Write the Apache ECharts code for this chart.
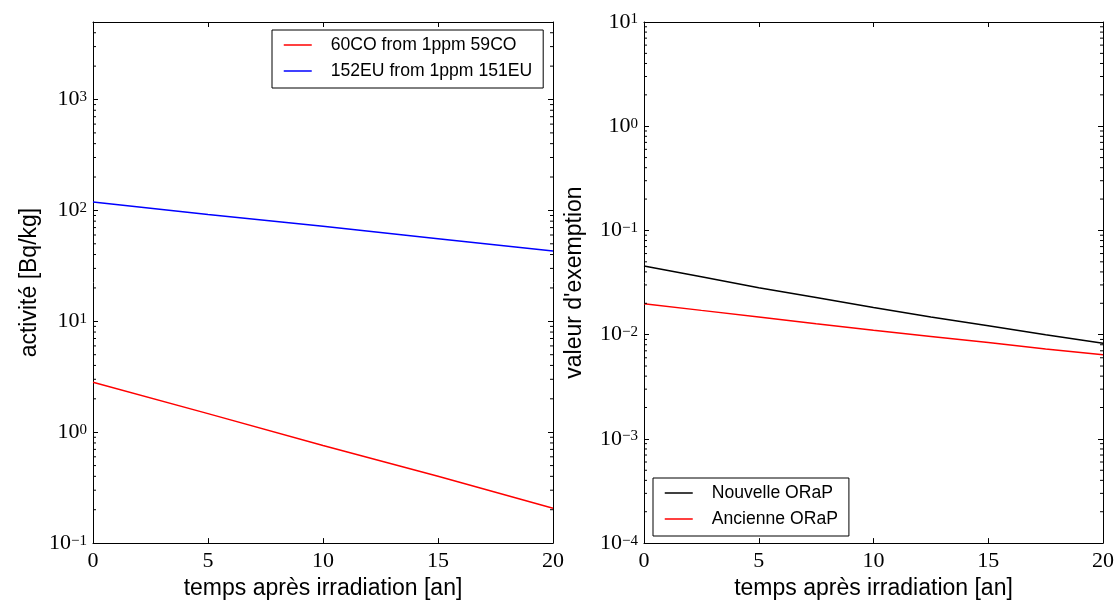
<!DOCTYPE html>
<html><head><meta charset="utf-8">
<script src="https://cdn.jsdelivr.net/npm/echarts@6/dist/echarts.min.js"></script>
<style>html,body{margin:0;padding:0;background:#fff}#c{width:1120px;height:605px}</style>
</head><body><div id="c"></div>
<script>
// ---- data ----
const yearsL = [0, 5, 10, 15, 20];
const co60 = [2.82, 1.47, 0.76, 0.40, 0.206];
const eu152 = [119, 92, 72, 55.5, 43];
const yearsR = [0, 2.5, 5, 7.5, 10, 12.5, 15, 17.5, 20];
const nouvelle = [0.0455, 0.0359, 0.0282, 0.0227, 0.0182, 0.0148, 0.0122, 0.0100, 0.00826];
const ancienne = [0.0198, 0.0171, 0.0148, 0.0127, 0.0110, 0.0096, 0.0084, 0.0073, 0.0064];
const xTicks = [0, 5, 10, 15, 20];
const yRangeL = [0.1, 5000];
const yRangeR = [0.0001, 10];
const namesL = ['60CO from 1ppm 59CO', '152EU from 1ppm 151EU'];
const namesR = ['Nouvelle ORaP', 'Ancienne ORaP'];
const xName = 'temps après irradiation [an]';
const yNameL = 'activité [Bq/kg]';
const yNameR = "valeur d'exemption";

const serif = 'Liberation Serif';
const sans = 'Liberation Sans';
const toPairs = (xs, ys) => xs.map((x, i) => [x, ys[i]]);

function logLabel(v) {
  const e = Math.log10(v), r = Math.round(e);
  if (Math.abs(e - r) > 1e-6) return '';
  return '{b|10}{s|' + (r < 0 ? '\u2212' + (-r) : r) + '}';
}
const rich = {
  b: {fontFamily: serif, fontSize: 22, color: '#000', lineHeight: 22},
  s: {fontFamily: serif, fontSize: 15, color: '#000', verticalAlign: 'top', lineHeight: 22, padding: [1, 0, 0, 0]}
};
function minorVals(lo, hi) {
  const out = [];
  for (let e = Math.floor(Math.log10(lo)); e <= Math.ceil(Math.log10(hi)); e++)
    for (let m = 2; m <= 9; m++) { const v = m * Math.pow(10, e); if (v > lo * 1.0001 && v < hi * 0.9999) out.push(v); }
  return out;
}
const axLine = {show: true, onZero: false, lineStyle: {color: '#000', width: 1}};
function xAx(g, top) {
  return {
    type: 'value', gridIndex: g, min: xTicks[0], max: xTicks[xTicks.length - 1], interval: 5,
    position: top ? 'top' : 'bottom',
    axisLine: axLine, axisTick: {show: true, inside: true, length: 5, lineStyle: {color: '#000'}},
    axisLabel: {show: !top, margin: 7, fontFamily: serif, fontSize: 22, color: '#000'},
    splitLine: {show: false},
    name: top ? '' : xName, nameLocation: 'middle', nameGap: 33,
    nameTextStyle: {fontFamily: sans, fontSize: 23, color: '#000'}
  };
}
function yAx(g, right, range, name, gap) {
  return {
    type: 'log', logBase: 10, gridIndex: g, min: range[0], max: range[1], splitNumber: 5,
    position: right ? 'right' : 'left',
    axisLine: axLine, axisTick: {show: true, inside: true, length: 5, lineStyle: {color: '#000'}},
    axisLabel: {show: !right, margin: 6, formatter: logLabel, rich: rich},
    splitLine: {show: false},
    name: right ? '' : name, nameLocation: 'middle', nameGap: gap,
    nameTextStyle: {fontFamily: sans, fontSize: 23, color: '#000'}
  };
}
function minorSeries(xi, yi, range) {
  return {
    type: 'custom', xAxisIndex: xi, yAxisIndex: yi, silent: true, z: 5,
    data: minorVals(range[0], range[1]).map(v => [0, v]),
    renderItem: function (params, api) {
      const v = api.value(1);
      const p0 = api.coord([xTicks[0], v]);
      const p1 = api.coord([xTicks[xTicks.length - 1], v]);
      return {type: 'group', children: [
        {type: 'line', shape: {x1: p0[0], y1: p0[1], x2: p0[0] + 3, y2: p0[1]}, style: {stroke: '#000', lineWidth: 1}},
        {type: 'line', shape: {x1: p1[0] - 3, y1: p1[1], x2: p1[0], y2: p1[1]}, style: {stroke: '#000', lineWidth: 1}}
      ]};
    }
  };
}
function lineSeries(name, xi, yi, xs, ys, color) {
  return {
    name: name, type: 'line', xAxisIndex: xi, yAxisIndex: yi, data: toPairs(xs, ys),
    symbol: 'none', showSymbol: false, lineStyle: {color: color, width: 1.5}, itemStyle: {color: color},
    z: 3, animation: false
  };
}
function legend(names, left, top) {
  return {
    data: names, orient: 'vertical', left: left, top: top,
    padding: [6, 11, 8, 11], itemWidth: 28, itemHeight: 14, itemGap: 8,
    borderColor: '#000', borderWidth: 1, borderRadius: 0, backgroundColor: '#fff',
    itemStyle: {opacity: 0},
    lineStyle: {width: 1.5},
    textStyle: {fontFamily: sans, fontSize: 17.6, color: '#000', padding: [0, 0, 0, 14]},
    selectedMode: false
  };
}

const chart = echarts.init(document.getElementById('c'), null, {renderer: 'canvas'});
chart.setOption({
  animation: false,
  backgroundColor: '#fff',
  grid: [
    {left: 93, right: 567, top: 22, bottom: 61},
    {left: 644, right: 17, top: 22, bottom: 61}
  ],
  xAxis: [xAx(0, false), xAx(0, true), xAx(1, false), xAx(1, true)],
  yAxis: [yAx(0, false, yRangeL, yNameL, 52), yAx(0, true, yRangeL, '', 0),
          yAx(1, false, yRangeR, yNameR, 58), yAx(1, true, yRangeR, '', 0)],
  legend: [legend(namesL, 272, 30), legend(namesR, 653, 478)],
  series: [
    lineSeries(namesL[0], 0, 0, yearsL, co60, '#ff0000'),
    lineSeries(namesL[1], 0, 0, yearsL, eu152, '#0000ff'),
    lineSeries(namesR[0], 2, 2, yearsR, nouvelle, '#000000'),
    lineSeries(namesR[1], 2, 2, yearsR, ancienne, '#ff0000'),
    minorSeries(0, 0, yRangeL),
    minorSeries(2, 2, yRangeR)
  ]
});
</script></body></html>
